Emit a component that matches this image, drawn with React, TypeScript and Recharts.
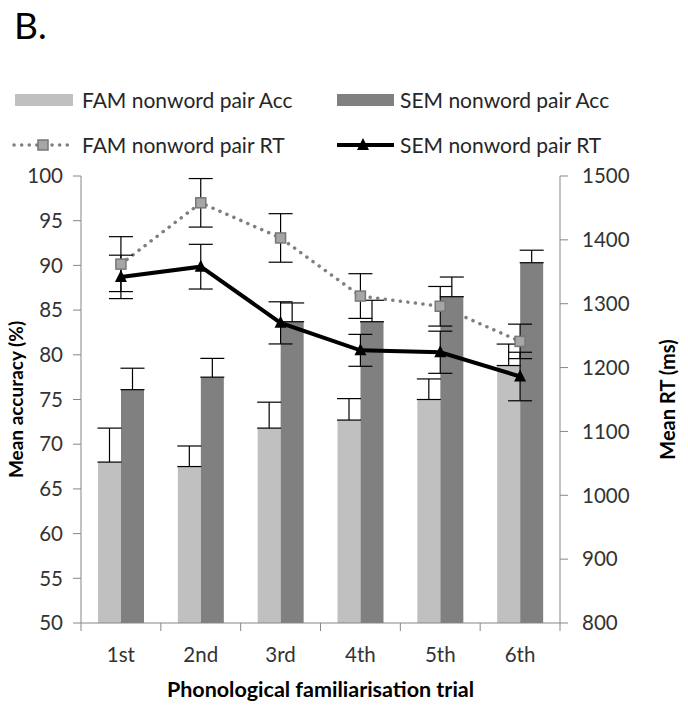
import React from "react"
import { ComposedChart, Bar, Line, XAxis, YAxis, ErrorBar, Label } from "recharts"

// Values (accuracy in %, RT in ms)
const trials = ["1st", "2nd", "3rd", "4th", "5th", "6th"]
const famAcc = [68.0, 67.5, 71.8, 72.7, 75.0, 78.8]
const famAccErr = [3.8, 2.3, 2.9, 2.4, 2.3, 2.4]
const semAcc = [76.1, 77.5, 83.7, 83.7, 86.5, 90.3]
const semAccErr = [2.4, 2.1, 2.1, 2.4, 2.2, 1.4]
const famRt = [1362, 1458, 1403, 1312, 1296, 1241]
const famRtErr = [43, 38, 38, 35, 31, 27]
const semRt = [1342, 1358, 1270, 1227, 1224, 1186]
const semRtErr = [34, 35, 33, 25, 33, 38]

const accTicks = [50, 55, 60, 65, 70, 75, 80, 85, 90, 95, 100]
const rtTicks = [800, 900, 1000, 1100, 1200, 1300, 1400, 1500]

const seriesNames = ["FAM nonword pair Acc", "SEM nonword pair Acc", "FAM nonword pair RT", "SEM nonword pair RT"]

const data = trials.map((trial, i) => ({
  trial,
  famAcc: famAcc[i],
  famAccErr: [0, famAccErr[i]],
  semAcc: semAcc[i],
  semAccErr: [0, semAccErr[i]],
  famRt: famRt[i],
  famRtErr: famRtErr[i],
  semRt: semRt[i],
  semRtErr: semRtErr[i],
}))

const FONT = "Lato, 'Open Sans', sans-serif"
const AXIS = "#868686"
const TEXT = "#333333"
const X_TICK_SIZE = 8
const X_TICK_MARGIN = 16

const TrialTick = (props: any) => {
  const { x, y, payload, index, visibleTicksCount } = props
  const half = payload?.offset ?? 0
  const axisY = y - X_TICK_SIZE - X_TICK_MARGIN
  const edges = [x - half]
  if (index === visibleTicksCount - 1) edges.push(x + half)
  return (
    <g>
      {edges.map((ex, i) => (
        <line key={i} x1={ex} x2={ex} y1={axisY} y2={axisY + X_TICK_SIZE} stroke={AXIS} />
      ))}
      <text x={x} y={y} dy="0.71em" textAnchor="middle" fontFamily={FONT} fontSize={20.5} fill={TEXT}>
        {payload.value}
      </text>
    </g>
  )
}

const SquareDot = (props: any) => {
  const { cx, cy, index } = props
  if (cx == null || cy == null) return null
  return <rect key={`sq-${index}`} x={cx - 5} y={cy - 5} width={10} height={10} fill="#a6a6a6" stroke="#777" strokeWidth={1.5} />
}

const TriangleDot = (props: any) => {
  const { cx, cy, index } = props
  if (cx == null || cy == null) return null
  return <polygon key={`tri-${index}`} points={`${cx},${cy - 7} ${cx + 6},${cy + 5} ${cx - 6},${cy + 5}`} fill="#000" />
}

const leftLabel = (props: any) => {
  const { x, y, height } = props.viewBox
  const cx = x + 15
  const cy = y + height / 2
  return (
    <text x={cx} y={cy} transform={`rotate(-90 ${cx} ${cy})`} textAnchor="middle" dominantBaseline="central"
      fontFamily={FONT} fontWeight="bold" fontSize={19} fill="#000">
      Mean accuracy (%)
    </text>
  )
}

const rightLabel = (props: any) => {
  const { x, y, height } = props.viewBox
  const cx = x + 107
  const cy = y + height / 2
  return (
    <text x={cx} y={cy} transform={`rotate(-90 ${cx} ${cy})`} textAnchor="middle" dominantBaseline="central"
      fontFamily={FONT} fontWeight="bold" fontSize={20} fill="#000">
      Mean RT (ms)
    </text>
  )
}

const bottomLabel = (props: any) => {
  const { x, y, width } = props.viewBox
  return (
    <text x={x + width / 2} y={y + 74} textAnchor="middle" fontFamily={FONT} fontWeight="bold" fontSize={21.5} fill="#000">
      Phonological familiarisation trial
    </text>
  )
}

function LegendAndTitle() {
  const t = { fontFamily: FONT, fontSize: 21, fill: "#262626" }
  return (
    <svg width={688} height={170} style={{ position: "absolute", left: 0, top: 0, pointerEvents: "none" }}>
      <text x={14} y={39} fontFamily={FONT} fontSize={37} fill="#000">B.</text>
      <rect x={15} y={94} width={58} height={12} fill="#c0c0c0" />
      <text x={82} y={107.5} {...t}>{seriesNames[0]}</text>
      <rect x={337} y={94} width={57} height={12} fill="#808080" />
      <text x={400} y={107.5} {...t}>{seriesNames[1]}</text>
      <line x1={14} x2={70} y1={145} y2={145} stroke="#7f7f7f" strokeWidth={3.5} strokeDasharray="0.1 7.5" strokeLinecap="round" />
      <rect x={38} y={140} width={10} height={10} fill="#a6a6a6" stroke="#777" strokeWidth={1.5} />
      <text x={82} y={152.5} {...t}>{seriesNames[2]}</text>
      <line x1={337} x2={394} y1={145} y2={145} stroke="#000" strokeWidth={4} />
      <polygon points="363,138 369,150 357,150" fill="#000" />
      <text x={400} y={152.5} {...t}>{seriesNames[3]}</text>
    </svg>
  )
}

export default function App() {
  return (
    <div style={{ position: "absolute", left: 0, top: 0, width: 688, height: 706, background: "#fff" }}>
      <ComposedChart width={688} height={706} data={data} margin={{ top: 176, right: 0, bottom: 0, left: 0 }} barGap={0}>
        <XAxis dataKey="trial" height={83} axisLine={{ stroke: AXIS }} tickLine={{ stroke: "none" }}
          tickSize={X_TICK_SIZE} tickMargin={X_TICK_MARGIN} tick={<TrialTick />} interval={0}>
          <Label content={bottomLabel} />
        </XAxis>
        <YAxis yAxisId="acc" width={81} domain={[50, 100]} ticks={accTicks} allowDataOverflow
          axisLine={{ stroke: AXIS }} tickLine={{ stroke: AXIS }} tickSize={8} tickMargin={10}
          tick={{ fontFamily: FONT, fontSize: 20.5, fill: TEXT }} interval={0}>
          <Label content={leftLabel} />
        </YAxis>
        <YAxis yAxisId="rt" orientation="right" width={128} domain={[800, 1500]} ticks={rtTicks} allowDataOverflow
          axisLine={{ stroke: AXIS }} tickLine={{ stroke: AXIS }} tickSize={8} tickMargin={14}
          tick={{ fontFamily: FONT, fontSize: 20.5, fill: TEXT }} interval={0}>
          <Label content={rightLabel} />
        </YAxis>
        <Bar yAxisId="acc" dataKey="famAcc" name={seriesNames[0]} fill="#c0c0c0" barSize={23} isAnimationActive={false}>
          <ErrorBar dataKey="famAccErr" width={12} stroke="#000" strokeWidth={1.2} direction="y" isAnimationActive={false} />
        </Bar>
        <Bar yAxisId="acc" dataKey="semAcc" name={seriesNames[1]} fill="#808080" barSize={23} isAnimationActive={false}>
          <ErrorBar dataKey="semAccErr" width={12} stroke="#000" strokeWidth={1.2} direction="y" isAnimationActive={false} />
        </Bar>
        <Line yAxisId="rt" type="linear" dataKey="famRt" name={seriesNames[2]} stroke="#7f7f7f" strokeWidth={3.5}
          strokeDasharray="0.1 7.5" strokeLinecap="round" dot={<SquareDot />} activeDot={false} isAnimationActive={false}>
          <ErrorBar dataKey="famRtErr" width={12} stroke="#000" strokeWidth={1.2} direction="y" isAnimationActive={false} />
        </Line>
        <Line yAxisId="rt" type="linear" dataKey="semRt" name={seriesNames[3]} stroke="#000" strokeWidth={4}
          dot={<TriangleDot />} activeDot={false} isAnimationActive={false}>
          <ErrorBar dataKey="semRtErr" width={12} stroke="#000" strokeWidth={1.2} direction="y" isAnimationActive={false} />
        </Line>
      </ComposedChart>
      <LegendAndTitle />
    </div>
  )
}
